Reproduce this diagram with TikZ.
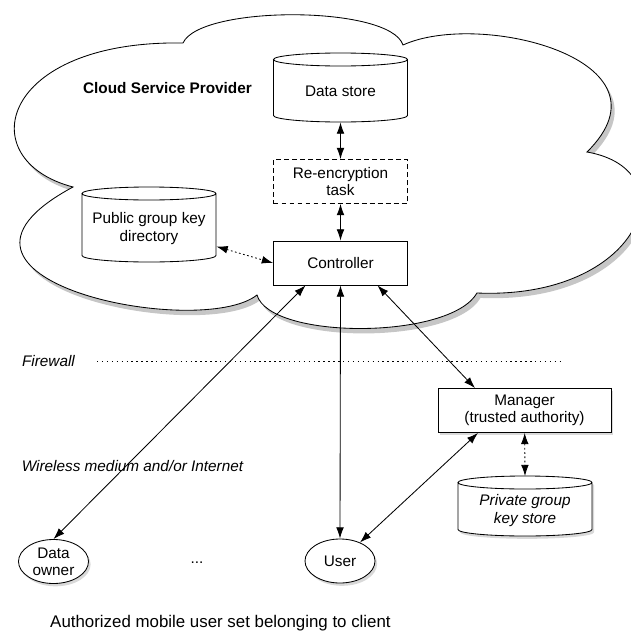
\documentclass[tikz,border=0pt]{standalone}
\usepackage{fontspec}
\setmainfont{Liberation Sans}
\usetikzlibrary{arrows.meta,shapes.geometric,shadows}

% drum outline: centre x, centre y, half height (all in px units), extra options
\newcommand\drumpath[4]{%
	\draw[fill=white,#4] (#1-67,#2-#3+6.5) -- (#1-67,#2+#3-6.5)
		arc[start angle=180,end angle=360,x radius=1.675cm,y radius=0.1625cm]
		-- (#1+67,#2-#3+6.5)
		arc[start angle=0,end angle=180,x radius=1.675cm,y radius=0.1625cm]
		arc[start angle=180,end angle=360,x radius=1.675cm,y radius=0.1625cm];}

\begin{document}
\begin{tikzpicture}[x=0.025cm,y=-0.025cm,line width=0.6pt,
		font=\fontsize{10.9}{12.3}\selectfont,
		>={Latex[length=8pt,width=5.5pt]},
		lifted/.style={drop shadow={shadow xshift=1.5pt,shadow yshift=-2pt,opacity=.3}},
		box/.style={draw,fill=white,rectangle,align=center,minimum width=3.35cm,minimum height=1.1cm},
		store/.style={rectangle,align=center,minimum width=3.35cm},
		member/.style={draw,fill=white,ellipse,align=center,inner sep=1pt,minimum width=1.75cm,minimum height=1.1cm},
		link/.style={<->},
		keylink/.style={<->,dash pattern=on 1.2pt off 1.8pt},
		note/.style={font=\fontsize{10.9}{12.3}\selectfont\itshape}]
	\clip (0,0) rectangle (631,632);
	% cloud
	\draw[fill=white,drop shadow={shadow xshift=2.5pt,shadow yshift=-3.5pt,opacity=.45}]
		(183,43) .. controls (200,5) and (390,5) .. (403,45)
		.. controls (480,10) and (680,60) .. (587,152)
		.. controls (690,170) and (640,300) .. (477,293)
		.. controls (450,340) and (270,340) .. (257,295)
		.. controls (200,340) and (-100,280) .. (73,187)
		.. controls (-30,160) and (0,40) .. (183,43) -- cycle;
	\node[anchor=center] (csp) at (167.5,88) {\bfseries Cloud Service Provider};
	\drumpath{340.5}{87.5}{34.5}{}
	\node[store,minimum height=1.525cm] (ds) at (340.5,91.5) {Data store};
	\node[box,dashed,dash pattern=on 3.5pt off 2.2pt] (reenc) at (340.5,181.5) {Re-encryption\\task};
	\node[box] (ctrl) at (340.5,263) {Controller};
	\drumpath{149}{224.5}{37.5}{}
	\node[store,minimum height=1.675cm] (pubkey) at (149,228.5) {Public group key\\directory};
	\node[box,lifted,minimum width=4.325cm] (manager) at (524.5,410.5) {Manager\\(trusted authority)};
	\drumpath{525}{506}{30}{lifted}
	\node[store,minimum height=1.3cm,note] (privkey) at (525,510.5) {Private group\\key store};
	\node[member,lifted] (owner) at (53.5,561.5) {Data\\owner};
	\node[member,lifted] (user) at (340,561) {User};
	\node[anchor=center] (more) at (197,563) {...};
	\node[note,anchor=east] (fwlabel) at (80,361) {Firewall};
	\coordinate (fwstart) at (97,361);
	\coordinate (fwend) at (563,361);
	\node[note] (wireless) at (132.5,466) {Wireless medium and/or Internet};
	\node[anchor=center,font=\fontsize{12}{14}\selectfont] (client) at (220.5,623) {Authorized mobile user set belonging to client};
	% connectors
	\draw[link] (ds) -- (reenc);
	\draw[link] (reenc) -- (ctrl);
	\draw[keylink] ([yshift=-0.45cm]pubkey.east) -- (ctrl.west);
	\draw[link] ([xshift=-0.875cm]ctrl.south) -- (owner.north);
	\draw[link] (ctrl.south) -- (user.north);
	\draw[link] ([xshift=0.925cm]ctrl.south) -- ([xshift=-1.2375cm]manager.north);
	\draw[link] ([xshift=-1.1625cm]manager.south) -- (user);
	\draw[keylink] (manager) -- ([yshift=0.2cm]privkey.north);
	\draw[dash pattern=on 1pt off 2.5pt] (fwstart) -- (fwend);
\end{tikzpicture}
\end{document}
